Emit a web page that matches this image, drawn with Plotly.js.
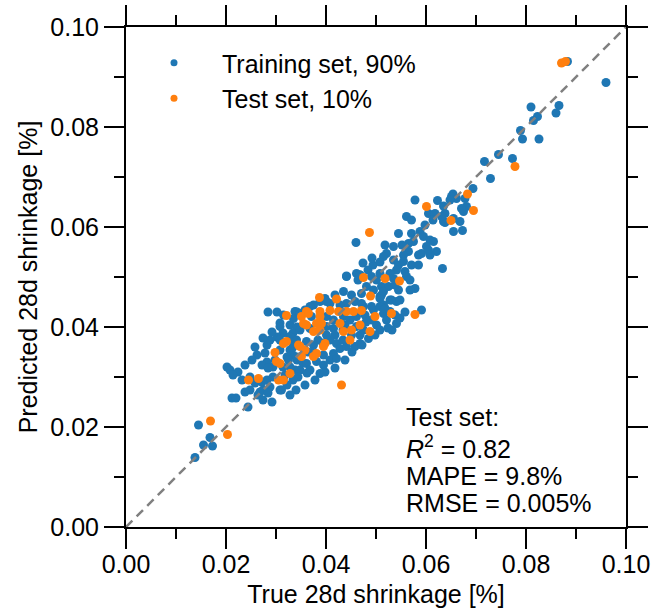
<!DOCTYPE html>
<html>
<head>
<meta charset="utf-8">
<script src="https://cdn.plot.ly/plotly-3.0.1.min.js"></script>
<style>html,body{margin:0;padding:0;background:#fff;}#chart{width:659px;height:608px;}</style>
</head>
<body>
<div id="chart"></div>
<script>
// Training set (true, predicted) [%]
const trainX = [
0.0960,0.0883,0.0810,0.0866,0.0860,0.0823,0.0815,0.0789,0.0793,0.0826,
0.0745,0.0717,0.0773,0.0729,0.0694,0.0654,0.0651,0.0678,0.0661,0.0648,
0.0681,0.0675,0.0671,0.0578,0.0623,0.0635,0.0605,0.0618,0.0638,0.0635,
0.0655,0.0668,0.0561,0.0571,0.0598,0.0588,0.0595,0.0608,0.0615,0.0601,
0.0621,0.0608,0.0591,0.0655,0.0673,0.0545,0.0571,0.0575,0.0460,0.0518,
0.0535,0.0521,0.0565,0.0565,0.0555,0.0605,0.0585,0.0515,0.0535,0.0545,
0.0555,0.0541,0.0558,0.0571,0.0561,0.0528,0.0585,0.0633,0.0568,0.0578,
0.0545,0.0511,0.0508,0.0531,0.0515,0.0591,0.0474,0.0494,0.0484,0.0461,
0.0441,0.0464,0.0501,0.0481,0.0495,0.0525,0.0511,0.0475,0.0495,0.0468,
0.0528,0.0541,0.0435,0.0418,0.0398,0.0408,0.0388,0.0375,0.0638,0.0614,
0.0631,
0.0284,0.0302,0.0342,0.0358,0.0308,0.0328,0.0342,0.0334,0.0314,0.0302,
0.0258,0.0282,0.0278,0.0262,0.0282,0.0308,0.0328,0.0334,0.0322,0.0342,
0.0252,0.0272,0.0294,0.0314,0.0338,0.0348,0.0202,0.0208,0.0224,0.0214,
0.0232,0.0248,0.0258,0.0272,0.0282,0.0294,0.0308,0.0288,0.0268,0.0264,
0.0212,0.0220,0.0274,0.0292,0.0244,0.0308,0.0328,0.0334,0.0288,0.0274,
0.0292,0.0284,0.0328,0.0354,0.0362,0.0344,0.0322,0.0334,
0.0274,0.0284,0.0311,0.0145,0.0168,0.0155,0.0173,0.0138,
0.0338,0.0368,0.0401,0.0315,0.0335,0.0348,0.0371,0.0401,0.0415,0.0435,
0.0461,0.0478,0.0491,0.0515,0.0528,0.0538,0.0541,0.0521,0.0308,0.0348,
0.0368,0.0401,0.0415,0.0438,0.0461,0.0475,0.0501,0.0508,0.0532,0.0485,
0.0468,0.0451,0.0418,0.0401,0.0328,0.0341,0.0361,0.0375,0.0408,0.0421,
0.0428,0.0441,0.0458,0.0468,0.0415,0.0395,0.0325,0.0361,0.0381,0.0395,
0.0408,0.0421,0.0368,0.0388,
0.0441,0.0468,0.0491,0.0508,0.0535,0.0515,0.0508,0.0471,0.0451,0.0458,
0.0441,0.0471,0.0491,0.0508,0.0518,
0.0342,0.0374,0.0394,0.0434,0.0434,
0.0472,0.0498,0.0524,0.0548,0.0558,0.0398,0.0418,0.0378,0.0358,0.0340,
0.0328,0.0438,0.0452,0.0384,0.0364,0.0448,0.0480,0.0428,0.0298,0.0238,
0.0248,0.0318,0.0238,0.0548,0.0568,0.0492,0.0508,0.0538,0.0552
];
const trainY = [
0.0889,0.0931,0.0840,0.0843,0.0828,0.0821,0.0813,0.0793,0.0776,0.0776,
0.0745,0.0731,0.0737,0.0697,0.0677,0.0666,0.0661,0.0657,0.0657,0.0654,
0.0641,0.0631,0.0637,0.0654,0.0653,0.0642,0.0627,0.0627,0.0627,0.0611,
0.0617,0.0611,0.0621,0.0614,0.0604,0.0591,0.0581,0.0574,0.0571,0.0561,
0.0551,0.0544,0.0547,0.0591,0.0593,0.0587,0.0587,0.0571,0.0569,0.0564,
0.0561,0.0547,0.0567,0.0551,0.0544,0.0554,0.0544,0.0541,0.0534,0.0524,
0.0531,0.0514,0.0511,0.0524,0.0501,0.0507,0.0524,0.0517,0.0494,0.0477,
0.0474,0.0481,0.0461,0.0454,0.0444,0.0434,0.0528,0.0524,0.0514,0.0507,
0.0501,0.0494,0.0494,0.0481,0.0474,0.0481,0.0464,0.0441,0.0434,0.0504,
0.0454,0.0451,0.0471,0.0464,0.0457,0.0447,0.0451,0.0444,0.0609,0.0614,
0.0621,
0.0430,0.0430,0.0430,0.0434,0.0408,0.0404,0.0400,0.0388,0.0388,0.0380,
0.0360,0.0364,0.0348,0.0344,0.0330,0.0354,0.0354,0.0344,0.0340,0.0334,
0.0334,0.0324,0.0320,0.0320,0.0314,0.0314,0.0320,0.0314,0.0310,0.0304,
0.0294,0.0300,0.0288,0.0290,0.0294,0.0300,0.0274,0.0280,0.0270,0.0264,
0.0258,0.0258,0.0254,0.0250,0.0240,0.0374,0.0374,0.0360,0.0374,0.0378,
0.0390,0.0318,0.0320,0.0328,0.0308,0.0300,0.0284,0.0294,
0.0274,0.0268,0.0274,0.0204,0.0179,0.0164,0.0162,0.0139,
0.0431,0.0441,0.0451,0.0424,0.0417,0.0427,0.0421,0.0421,0.0414,0.0421,
0.0421,0.0424,0.0414,0.0427,0.0431,0.0424,0.0407,0.0414,0.0401,0.0394,
0.0397,0.0401,0.0397,0.0404,0.0401,0.0394,0.0404,0.0394,0.0394,0.0377,
0.0384,0.0384,0.0384,0.0384,0.0381,0.0374,0.0371,0.0364,0.0374,0.0367,
0.0357,0.0361,0.0361,0.0367,0.0347,0.0344,0.0334,0.0327,0.0331,0.0324,
0.0334,0.0337,0.0314,0.0307,
0.0502,0.0504,0.0501,0.0507,0.0497,0.0471,0.0457,0.0467,0.0464,0.0451,
0.0447,0.0447,0.0441,0.0441,0.0437,
0.0340,0.0350,0.0368,0.0374,0.0394,
0.0364,0.0384,0.0398,0.0418,0.0430,0.0310,0.0318,0.0294,0.0284,0.0274,
0.0264,0.0334,0.0350,0.0374,0.0350,0.0414,0.0410,0.0444,0.0334,0.0324,
0.0274,0.0304,0.0270,0.0454,0.0474,0.0538,0.0530,0.0484,0.0564
];
// Test set (true, predicted) [%]
const testX = [
0.0871,0.0879,0.0778,0.0683,0.0601,0.0695,0.0650,0.0487,0.0518,0.0547,
0.0475,0.0489,0.0421,0.0387,0.0578,0.0531,0.0498,0.0361,0.0388,0.0408,
0.0425,0.0441,0.0455,0.0471,0.0351,0.0321,0.0365,0.0388,0.0391,0.0361,
0.0355,0.0381,0.0375,0.0388,0.0428,0.0435,0.0451,0.0468,0.0488,0.0448,
0.0321,0.0315,0.0398,0.0395,0.0348,0.0345,0.0358,0.0351,0.0375,0.0381,
0.0298,0.0301,0.0308,0.0328,0.0305,0.0315,0.0245,0.0265,0.0431,0.0169,
0.0203
];
const testY = [
0.0928,0.0931,0.0721,0.0666,0.0641,0.0633,0.0613,0.0589,0.0497,0.0492,
0.0499,0.0462,0.0456,0.0459,0.0425,0.0427,0.0421,0.0431,0.0431,0.0433,
0.0431,0.0431,0.0431,0.0433,0.0421,0.0423,0.0427,0.0421,0.0407,0.0404,
0.0407,0.0407,0.0391,0.0394,0.0407,0.0391,0.0394,0.0404,0.0391,0.0374,
0.0371,0.0367,0.0367,0.0361,0.0361,0.0364,0.0354,0.0341,0.0341,0.0347,
0.0349,0.0331,0.0327,0.0307,0.0294,0.0294,0.0294,0.0297,0.0284,0.0212,
0.0185
];
const identity = [0, 0.1];
const xTitle = "True 28d shrinkage [%]";
const yTitle = "Predicted 28d shrinkage [%]";
const trainName = "Training set, 90%";
const testName = "Test set, 10%";
const statLines = ["Test set:", "<i>R</i><sup>2</sup> = 0.82", "MAPE = 9.8%", "RMSE = 0.005%"];

const BLUE = "#1f77b4", ORANGE = "#ff7f0e";
const FONT = "Liberation Sans, Arial, sans-serif";

const traces = [
  {x: trainX, y: trainY, type: "scatter", mode: "markers", showlegend: false,
   marker: {color: BLUE, size: 9}},
  {x: testX, y: testY, type: "scatter", mode: "markers", showlegend: false,
   marker: {color: ORANGE, size: 9}},
  {x: identity, y: identity, type: "scatter", mode: "lines", showlegend: false,
   line: {color: "#808080", width: 2.5, dash: "9px,6px"}, hoverinfo: "skip"},
  {x: [null], y: [null], type: "scatter", mode: "markers", name: trainName,
   marker: {color: BLUE, size: 7}},
  {x: [null], y: [null], type: "scatter", mode: "markers", name: testName,
   marker: {color: ORANGE, size: 7}}
];

const axisCommon = {
  range: [0, 0.1], dtick: 0.02, tick0: 0, tickformat: ".2f",
  ticks: "outside", ticklen: 20, tickwidth: 2, tickcolor: "#000",
  showline: true, linewidth: 2, linecolor: "#000", mirror: "ticks",
  showgrid: false, zeroline: false, automargin: false,
  tickfont: {family: FONT, size: 25, color: "#000"},
  minor: {dtick: 0.01, tick0: 0, ticks: "outside", ticklen: 10, tickwidth: 2, tickcolor: "#000", showgrid: false}
};

const annotations = statLines.map((t, i) => ({
  xref: "paper", yref: "paper", x: 0.556, y: [0.22, 0.16, 0.102, 0.048][i],
  xanchor: "left", yanchor: "middle", text: t, showarrow: false,
  font: {family: FONT, size: 25, color: "#000"}
}));

const layout = {
  width: 659, height: 608,
  margin: {l: 126, r: 33, t: 27, b: 81},
  paper_bgcolor: "#fff", plot_bgcolor: "#fff",
  font: {family: FONT, size: 25, color: "#000"},
  xaxis: Object.assign({}, axisCommon, {ticklabelstandoff: -6,
    title: {text: xTitle, font: {family: FONT, size: 25}, standoff: 12}}),
  yaxis: Object.assign({}, axisCommon, {title: {text: yTitle, font: {family: FONT, size: 25}, standoff: 6}}),
  showlegend: true,
  legend: {x: 0.0, y: 0.974, xanchor: "left", yanchor: "top", bgcolor: "rgba(0,0,0,0)",
           font: {family: FONT, size: 25, color: "#000"}, itemwidth: 86, tracegroupgap: 0},
  annotations: annotations
};

Plotly.newPlot("chart", traces, layout, {staticPlot: true, displayModeBar: false});
</script>
</body>
</html>
